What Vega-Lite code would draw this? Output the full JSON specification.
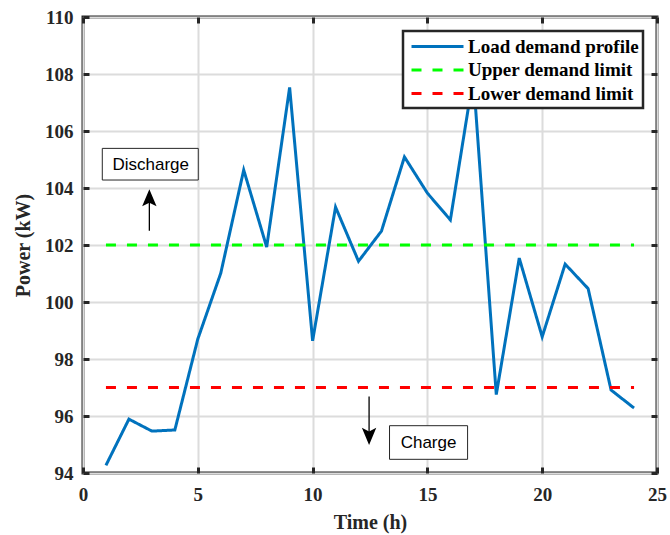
{
  "$schema": "https://vega.github.io/schema/vega-lite/v6.json",
  "width": 574,
  "height": 456,
  "autosize": {"type": "none"},
  "padding": {"left": 83, "top": 17, "right": 13, "bottom": 62},
  "background": "white",
  "datasets": {
    "series": [
      {"h": 1, "p": 94.27, "s": "Load demand profile"},
      {"h": 2, "p": 95.89, "s": "Load demand profile"},
      {"h": 3, "p": 95.47, "s": "Load demand profile"},
      {"h": 4, "p": 95.51, "s": "Load demand profile"},
      {"h": 5, "p": 98.7, "s": "Load demand profile"},
      {"h": 6, "p": 101.01, "s": "Load demand profile"},
      {"h": 7, "p": 104.63, "s": "Load demand profile"},
      {"h": 8, "p": 101.93, "s": "Load demand profile"},
      {"h": 9, "p": 107.53, "s": "Load demand profile"},
      {"h": 10, "p": 98.64, "s": "Load demand profile"},
      {"h": 11, "p": 103.33, "s": "Load demand profile"},
      {"h": 12, "p": 101.43, "s": "Load demand profile"},
      {"h": 13, "p": 102.49, "s": "Load demand profile"},
      {"h": 14, "p": 105.09, "s": "Load demand profile"},
      {"h": 15, "p": 103.82, "s": "Load demand profile"},
      {"h": 16, "p": 102.88, "s": "Load demand profile"},
      {"h": 17, "p": 107.9, "s": "Load demand profile"},
      {"h": 18, "p": 96.75, "s": "Load demand profile"},
      {"h": 19, "p": 101.54, "s": "Load demand profile"},
      {"h": 20, "p": 98.78, "s": "Load demand profile"},
      {"h": 21, "p": 101.33, "s": "Load demand profile"},
      {"h": 22, "p": 100.47, "s": "Load demand profile"},
      {"h": 23, "p": 96.91, "s": "Load demand profile"},
      {"h": 24, "p": 96.28, "s": "Load demand profile"},
      {"h": 1, "p": 102, "s": "Upper demand limit"},
      {"h": 24, "p": 102, "s": "Upper demand limit"},
      {"h": 1, "p": 97, "s": "Lower demand limit"},
      {"h": 24, "p": 97, "s": "Lower demand limit"}
    ],
    "boxes": [
      {"x1": 0.84, "x2": 5.02, "y1": 104.28, "y2": 105.39, "xt": 2.95, "yt": 104.8, "label": "Discharge"},
      {"x1": 13.35, "x2": 16.75, "y1": 94.48, "y2": 95.66, "xt": 15.05, "yt": 95.07, "label": "Charge"}
    ],
    "arrows": [
      {"x": 2.89, "y1": 102.5, "y2": 103.6, "yh": 103.64, "dir": "up"},
      {"x": 12.46, "y1": 96.68, "y2": 95.35, "yh": 95.3, "dir": "down"}
    ]
  },
  "config": {
    "view": {"stroke": "#262626", "strokeWidth": 3},
    "axis": {
      "labelFont": "Liberation Serif",
      "labelFontWeight": "bold",
      "labelFontSize": 19,
      "labelColor": "#262626",
      "labelFlush": false,
      "titleFont": "Liberation Serif",
      "titleFontWeight": "bold",
      "titleFontSize": 20,
      "titleColor": "#262626",
      "domain": false,
      "gridColor": "#dcdcdc",
      "gridWidth": 2,
      "tickColor": "#262626",
      "tickWidth": 3,
      "tickSize": -6
    },
    "legend": {
      "orient": "none",
      "legendX": 320,
      "legendY": 14,
      "fillColor": "white",
      "strokeColor": "#262626",
      "padding": 4,
      "symbolType": "M-0.7,0H4.5",
      "symbolSize": 400,
      "symbolStrokeWidth": 3,
      "labelFont": "Liberation Serif",
      "labelFontWeight": "bold",
      "labelFontSize": 19,
      "labelColor": "#000000",
      "labelLimit": 400,
      "labelOffset": 38,
      "rowPadding": 1.5
    }
  },
  "resolve": {"axis": {"x": "independent", "y": "independent"}},
  "layer": [
    {
      "data": {"name": "series"},
      "mark": {"type": "line", "strokeWidth": 3},
      "encoding": {
        "x": {
          "field": "h", "type": "quantitative",
          "scale": {"domain": [0, 25], "nice": false},
          "axis": {"values": [0, 5, 10, 15, 20, 25], "title": "Time (h)", "grid": true, "labelPadding": 18, "titlePadding": 8}
        },
        "y": {
          "field": "p", "type": "quantitative",
          "scale": {"domain": [94, 110], "nice": false},
          "axis": {"values": [94, 96, 98, 100, 102, 104, 106, 108, 110], "title": "Power (kW)", "grid": true, "labelPadding": 16, "titlePadding": 11}
        },
        "color": {
          "field": "s", "type": "nominal",
          "scale": {"domain": ["Load demand profile", "Upper demand limit", "Lower demand limit"], "range": ["#0072BD", "#00FF00", "#FF0000"]},
          "legend": {"title": null, "encode": {"legend": {"update": {"strokeWidth": {"value": 2.5}}}}}
        },
        "strokeDash": {
          "field": "s", "type": "nominal",
          "scale": {"domain": ["Load demand profile", "Upper demand limit", "Lower demand limit"], "range": [[1, 0], [10, 11], [10, 11]]},
          "legend": {"title": null, "encode": {"legend": {"update": {"strokeWidth": {"value": 2.5}}}}}
        }
      }
    },
    {
      "data": {"name": "boxes"},
      "mark": {"type": "rect", "fill": "white", "stroke": "#262626", "strokeWidth": 1},
      "encoding": {
        "x": {"field": "x1", "type": "quantitative", "scale": {"domain": [0, 25], "nice": false},
              "axis": {"orient": "top", "values": [0, 5, 10, 15, 20, 25], "labels": false, "grid": false, "title": null}},
        "x2": {"field": "x2"},
        "y": {"field": "y1", "type": "quantitative", "scale": {"domain": [94, 110], "nice": false},
              "axis": {"orient": "right", "values": [94, 96, 98, 100, 102, 104, 106, 108, 110], "labels": false, "grid": false, "title": null}},
        "y2": {"field": "y2"}
      }
    },
    {
      "data": {"name": "boxes"},
      "mark": {"type": "text", "font": "Liberation Sans", "fontSize": 17, "color": "#000000", "align": "center", "baseline": "middle"},
      "encoding": {
        "x": {"field": "xt", "type": "quantitative", "axis": null},
        "y": {"field": "yt", "type": "quantitative", "axis": null},
        "text": {"field": "label"}
      }
    },
    {
      "data": {"name": "arrows"},
      "mark": {"type": "rule", "stroke": "#000000", "strokeWidth": 1.3},
      "encoding": {
        "x": {"field": "x", "type": "quantitative", "axis": null},
        "y": {"field": "y1", "type": "quantitative", "axis": null},
        "y2": {"field": "y2"}
      }
    },
    {
      "data": {"name": "arrows"},
      "mark": {"type": "point", "filled": true, "color": "#000000", "opacity": 1, "size": 324, "strokeWidth": 0},
      "encoding": {
        "x": {"field": "x", "type": "quantitative", "axis": null},
        "y": {"field": "yh", "type": "quantitative", "axis": null},
        "shape": {
          "field": "dir", "type": "nominal",
          "scale": {"domain": ["up", "down"], "range": ["M0,-1L0.8,0.9L0,0.5L-0.8,0.9Z", "M0,1L0.8,-0.9L0,-0.5L-0.8,-0.9Z"]},
          "legend": null
        }
      }
    }
  ]
}
